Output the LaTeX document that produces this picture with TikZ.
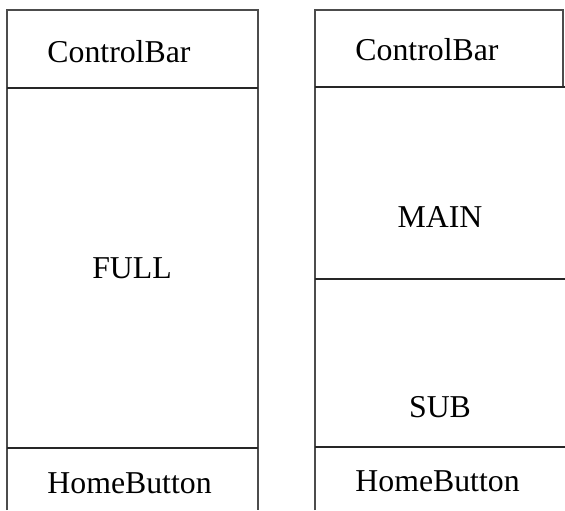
\documentclass[tikz,border=0pt]{standalone}
\usepackage{fontspec}
\setmainfont{Liberation Serif}

\begin{document}
\begin{tikzpicture}[x=0.5pt, y=-0.5pt]

\tikzstyle{frame} = [draw=black!70, line width=0.7pt]
\tikzstyle{divider} = [draw=black!85, line width=1pt]
\tikzstyle{barlabel} = [anchor=base west, inner sep=0pt, font=\fontsize{15.9}{19}\selectfont]
\tikzstyle{arealabel} = [anchor=base, inner sep=0pt, font=\fontsize{15.9}{19}\selectfont]

    \useasboundingbox (0,0) rectangle (565,510);

    % left screen
    \draw [frame] (7,510) -- (7,10) -- (258,10) -- (258,510);
    \draw [divider] (7,88) -- (258,88);
    \draw [divider] (7,448) -- (258,448);
    \node [barlabel] (barL) at (47,62) {ControlBar};
    \node [arealabel] (full) at (132,278) {FULL};
    \node [barlabel] (homeL) at (47,493) {HomeButton};

    % right screen
    \draw [frame] (315,510) -- (315,10) -- (563,10) -- (563,87);
    \draw [divider] (315,87) -- (565,87);
    \draw [divider] (315,279) -- (565,279);
    \draw [divider] (315,447) -- (565,447);
    \node [barlabel] (barR) at (355,60) {ControlBar};
    \node [arealabel] (main) at (440,227) {MAIN};
    \node [arealabel] (sub) at (440,417) {SUB};
    \node [barlabel] (homeR) at (355,491) {HomeButton};

\end{tikzpicture}
\end{document}
